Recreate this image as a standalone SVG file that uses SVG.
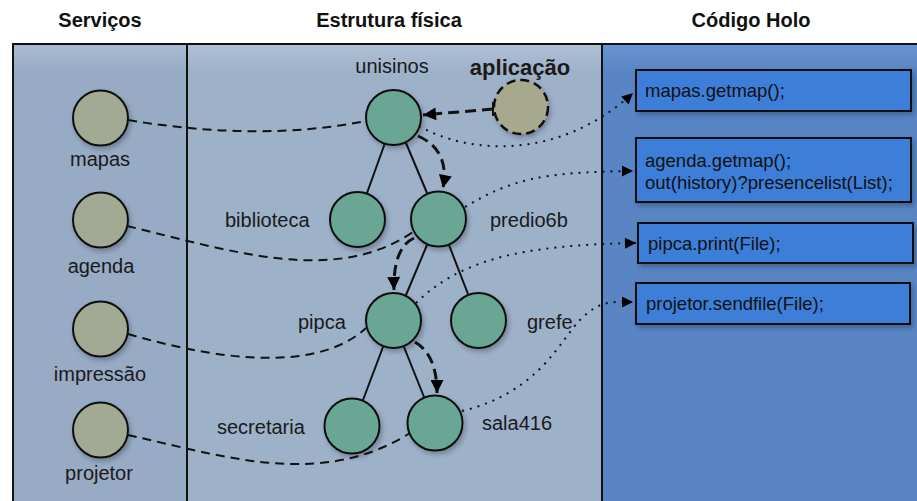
<svg xmlns="http://www.w3.org/2000/svg" width="917" height="501" viewBox="0 0 917 501">
<style>
.hdr{font-family:"Liberation Sans",Arial,sans-serif;font-weight:bold;font-size:20px;fill:#111;text-anchor:middle}
.lbl{font-family:"Liberation Sans",Arial,sans-serif;font-size:20px;fill:#1a1a1a}
.mid{text-anchor:middle}
.code{font-family:"Liberation Sans",Arial,sans-serif;font-size:18.5px;fill:#111}
.svc{fill:#a2aa93;stroke:#111;stroke-width:2}
.nd{fill:#69a693;stroke:#111;stroke-width:2}
.tree{stroke:#111;stroke-width:2;fill:none}
.dash{stroke:#111;stroke-width:2;stroke-dasharray:9,6;fill:none}
.dot{stroke:#111;stroke-width:2;stroke-dasharray:2,6;fill:none}
.flow{stroke:#111;stroke-width:3;stroke-dasharray:11,6;fill:none}
.box{fill:#3e7ed8;stroke:#111;stroke-width:2}
</style>
<defs>
<marker id="ah" viewBox="0 0 10 10" refX="10" refY="5" markerWidth="13" markerHeight="11" markerUnits="userSpaceOnUse" orient="auto">
<path d="M0,0 L10,5 L0,10 Z" fill="#000"/>
</marker>
<marker id="ahb" viewBox="0 0 10 10" refX="10" refY="5" markerWidth="16" markerHeight="13" markerUnits="userSpaceOnUse" orient="auto">
<path d="M0,0 L10,5 L0,10 Z" fill="#000"/>
</marker>
<filter id="sh" x="-20%" y="-20%" width="150%" height="150%">
<feDropShadow dx="2" dy="3" stdDeviation="2.5" flood-color="#000" flood-opacity="0.25"/>
</filter>
<linearGradient id="gl" x1="0" y1="0" x2="0" y2="1">
<stop offset="0" stop-color="#a9bcd3"/>
<stop offset="0.06" stop-color="#97abc5"/>
<stop offset="1" stop-color="#97abc5"/>
</linearGradient>
<linearGradient id="gm" x1="0" y1="0" x2="0" y2="1">
<stop offset="0" stop-color="#afc1d7"/>
<stop offset="0.06" stop-color="#9db1c9"/>
<stop offset="1" stop-color="#9db1c9"/>
</linearGradient>
<linearGradient id="gr" x1="0" y1="0" x2="0" y2="1">
<stop offset="0" stop-color="#6a95d0"/>
<stop offset="0.06" stop-color="#5985c5"/>
<stop offset="1" stop-color="#5a85c4"/>
</linearGradient>
</defs>
<rect width="917" height="501" fill="#fff"/>
<g id="panels">
<rect x="13" y="44" width="920" height="470" fill="#000" opacity="0.25" filter="url(#sh)"/>
<rect x="13" y="44" width="174" height="470" fill="url(#gl)"/>
<rect x="187" y="44" width="415" height="470" fill="url(#gm)"/>
<rect x="602" y="44" width="330" height="470" fill="url(#gr)"/>
<rect x="13" y="44" width="920" height="470" fill="none" stroke="#111" stroke-width="2"/>
<line x1="187" y1="44" x2="187" y2="501" stroke="#111" stroke-width="2"/>
<line x1="602" y1="44" x2="602" y2="501" stroke="#111" stroke-width="2"/>
</g>
<g id="headers">
<text class="hdr" x="100" y="27">Serviços</text>
<text class="hdr" x="389" y="27">Estrutura física</text>
<text class="hdr" x="751" y="27">Código Holo</text>
</g>
<g id="tree-edges">
<line class="tree" x1="385" y1="143" x2="367" y2="193"/>
<line class="tree" x1="406" y1="143" x2="427" y2="193"/>
<line class="tree" x1="427" y1="245" x2="406" y2="295"/>
<line class="tree" x1="449" y1="245" x2="468" y2="294"/>
<line class="tree" x1="383" y1="347" x2="363" y2="400"/>
<line class="tree" x1="404" y1="347" x2="424" y2="397"/>
</g>
<g id="svc-mapas"><circle class="svc" cx="100.5" cy="118" r="27.5" filter="url(#sh)"/><text class="lbl mid" x="100" y="166">mapas</text></g>
<g id="svc-agenda"><circle class="svc" cx="100.5" cy="220" r="27.5" filter="url(#sh)"/><text class="lbl mid" x="101" y="273">agenda</text></g>
<g id="svc-impressao"><circle class="svc" cx="100.5" cy="329" r="27.5" filter="url(#sh)"/><text class="lbl mid" x="100" y="381">impressão</text></g>
<g id="svc-projetor"><circle class="svc" cx="100.5" cy="430" r="27.5" filter="url(#sh)"/><text class="lbl mid" x="99" y="480">projetor</text></g>
<g id="node-unisinos"><circle class="nd" cx="393.5" cy="117.5" r="27.5" filter="url(#sh)"/><text class="lbl mid" x="392" y="73">unisinos</text></g>
<g id="node-aplicacao"><circle cx="521" cy="107" r="27" fill="#a6a98c" stroke="#111" stroke-width="2.5" stroke-dasharray="9,5" filter="url(#sh)"/><text class="lbl mid" x="520" y="75" style="font-weight:bold;font-size:22px">aplicação</text></g>
<g id="node-biblioteca"><circle class="nd" cx="357.5" cy="219.5" r="27.5" filter="url(#sh)"/><text class="lbl" x="225" y="227">biblioteca</text></g>
<g id="node-predio6b"><circle class="nd" cx="438.5" cy="219" r="27.5" filter="url(#sh)"/><text class="lbl" x="490" y="227">predio6b</text></g>
<g id="node-pipca"><circle class="nd" cx="393.5" cy="320.5" r="27.5" filter="url(#sh)"/><text class="lbl" x="298" y="329">pipca</text></g>
<g id="node-grefe"><circle class="nd" cx="478.5" cy="320.5" r="27.5" filter="url(#sh)"/><text class="lbl" x="527" y="329">grefe</text></g>
<g id="node-secretaria"><circle class="nd" cx="352" cy="426" r="27.5" filter="url(#sh)"/><text class="lbl" x="217" y="434">secretaria</text></g>
<g id="node-sala416"><circle class="nd" cx="435" cy="423" r="27.5" filter="url(#sh)"/><text class="lbl" x="482" y="430">sala416</text></g>
<g id="code-mapas"><rect class="box" x="636" y="70" width="275" height="41" filter="url(#sh)"/><text class="code" x="645" y="97">mapas.getmap();</text></g>
<g id="code-agenda"><rect class="box" x="636" y="138" width="275" height="64" filter="url(#sh)"/><text class="code" x="645" y="167">agenda.getmap();</text><text class="code" x="645" y="189">out(history)?presencelist(List);</text></g>
<g id="code-pipca"><rect class="box" x="638" y="223" width="275" height="40" filter="url(#sh)"/><text class="code" x="648" y="250">pipca.print(File);</text></g>
<g id="code-projetor"><rect class="box" x="636" y="283" width="274" height="41" filter="url(#sh)"/><text class="code" x="646" y="310">projetor.sendfile(File);</text></g>
<g id="connectors">
<path class="dash" d="M128,120 Q260,142 366,121"/>
<path class="dash" d="M127,226 C235,252 335,285 413,232"/>
<path class="dash" d="M128,334 C190,352 310,380 366,328"/>
<path class="dash" d="M128,435 C220,455 320,490 410,433"/>
<path class="dot" d="M419,126 C470,155 560,160 633,93" marker-end="url(#ah)"/>
<path class="dot" d="M465,207 C510,180 540,172 633,171" marker-end="url(#ah)"/>
<path class="dot" d="M416,303 C460,260 520,245 636,243" marker-end="url(#ah)"/>
<path class="dot" d="M462,411 C540,392 560,340 580,320 S610,302 633,302" marker-end="url(#ah)"/>
<path class="flow" d="M493,109 L423,115" marker-end="url(#ahb)"/>
<line x1="493" y1="102" x2="493" y2="116" stroke="#111" stroke-width="2"/>
<path class="flow" d="M418,136 Q450,150 443,188" marker-end="url(#ahb)"/>
<path class="flow" d="M414,238 Q393,248 394,290" marker-end="url(#ahb)"/>
<path class="flow" d="M415,342 Q437,355 437,393" marker-end="url(#ahb)"/>
</g>
</svg>
